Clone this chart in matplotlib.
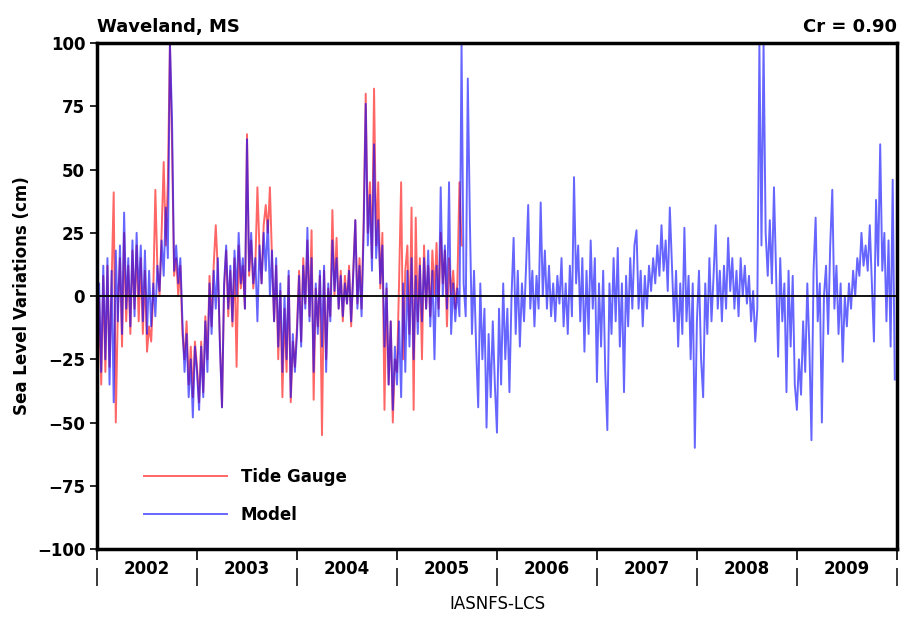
import numpy as np
import matplotlib.pyplot as plt

#Data, 48 samples per year (cm)
years = [2002, 2003, 2004, 2005, 2006, 2007, 2008, 2009]
per_year = 48

model_2002 = [-45, 5, -30, 12, -25, 15, -35, 10, -42, 18, -10, 20, -15, 33, -5, 15,
              -12, 22, -8, 25, 0, 20, -10, 18, -15, 10, -12, 5, -8, 12, 2, 22,
              8, 35, 15, 100, 70, 10, 20, 5, 15, -10, -30, -15, -40, -25, -48, -20]
model_2003 = [-30, -45, -20, -40, -10, -30, 5, -15, 10, -5, 15, -20, -44, 5, 20, -5,
              12, -10, 18, 0, 25, 5, 15, -5, 62, 10, 25, 5, 15, -10, 20, 5,
              25, 10, 30, 0, 18, -10, 15, -20, 5, -30, 0, -25, 10, -40, -15, -30]
model_2004 = [-15, 8, -20, 12, -5, 27, -10, 15, -30, 5, -15, 10, -20, 12, -30, 5,
              -10, 22, 2, 15, -5, 8, -8, 5, -3, 10, -10, 8, 30, -5, 12, -8,
              25, 76, 20, 40, 10, 60, 15, 30, 5, 20, -20, 5, -35, -10, -45, -20]
model_2005 = [-35, -10, -40, 5, -30, 10, -20, 15, -25, 8, -15, 12, -10, 15, -5, 18,
              -12, 10, -25, 12, -8, 43, 0, 20, -5, 45, -15, 5, -10, 3, -8, 100,
              5, -8, 86, 30, -15, 10, -20, -44, 5, -25, -5, -52, -15, -40, -10, -35]
model_2006 = [-54, -5, -35, 5, -25, -5, -38, 0, 23, -15, 10, -20, 5, -10, 12, 36,
              -5, 10, -12, 8, -5, 37, 0, 18, -5, 12, -8, 5, -10, 8, -3, 15,
              -12, 5, -15, 12, -8, 47, 5, 20, -10, 15, -22, 10, -15, 22, -5, 15]
model_2007 = [-34, 5, -20, 10, -30, -53, 5, -15, 15, -10, 19, -20, 5, -38, 8, -12,
              15, -5, 20, 26, -5, 10, -12, 8, -5, 12, 2, 15, 5, 20, 8, 28,
              10, 22, 2, 35, 12, -10, 10, -20, 5, -15, 27, -10, 8, -25, 5, -60]
model_2008 = [-10, 10, -25, -40, 5, -15, 15, -10, 8, 28, -5, 10, -10, 12, -5, 23,
              2, 15, -5, 10, -8, 15, 0, 12, -3, 8, -10, 2, -18, -5, 100, 20,
              100, 25, 8, 30, 5, 43, 10, -24, 15, -10, 5, -38, 10, -20, 8, -35]
model_2009 = [-45, -25, -39, -10, -30, 5, -20, -57, 10, 31, -10, 5, -50, 0, 12, -15,
              20, 42, -5, 12, -15, 5, -26, 0, -12, 5, -5, 10, 0, 15, 8, 25,
              12, 20, 10, 28, 5, -18, 38, 12, 60, 10, 25, -10, 22, -20, 46, -33]

gauge_2002 = [-52, 0, -35, 8, -30, 12, -28, 5, 41, -50, -5, 15, -20, 25, -10, 12,
              -15, 18, -5, 20, -10, 15, -15, 10, -22, -12, -18, 2, 42, 10, 0, 25,
              53, 20, 45, 100, 60, 8, 15, 0, 12, -15, -25, -10, -35, -20, -40, -18]
gauge_2003 = [-28, -42, -18, -38, -8, -25, 8, -12, 12, 28, 10, -18, -44, 3, 18, -8,
              10, -12, 15, -28, 20, 3, 12, -5, 64, 8, 22, 3, 12, 43, 18, 5,
              28, 36, 25, 43, 15, -10, 12, -25, 2, -40, -5, -30, 8, -42, -18, -28]
gauge_2004 = [-12, 10, -18, 15, -3, 22, -8, 26, -41, 3, -12, 8, -55, 10, -25, 3,
              -8, 34, 0, 23, -5, 10, -10, 8, -3, 12, -12, 10, 30, -3, 15, -5,
              30, 80, 25, 45, 15, 82, 20, 45, 3, 25, -45, 3, -35, -10, -50, -25]
# gauge stops in late August 2005
gauge_2005 = [-30, 5, 45, -25, 10, 20, -15, 35, -45, 31, -10, 15, -25, 20, -5, 12,
              -8, 18, 0, 21, -5, 25, 5, 18, -12, 15, 0, 10, -5, 5, 45, 20]

model = np.array(model_2002 + model_2003 + model_2004 + model_2005 +
                 model_2006 + model_2007 + model_2008 + model_2009, dtype=float)
gauge = np.array(gauge_2002 + gauge_2003 + gauge_2004 + gauge_2005, dtype=float)
t_model = years[0] + np.arange(len(model)) / per_year
t_gauge = years[0] + np.arange(len(gauge)) / per_year

#Plot
fig = plt.figure(figsize=(9.12, 6.23), dpi=100)
ax = fig.add_axes([0.1064, 0.1188, 0.877, 0.812])

ax.plot(t_gauge, gauge, color=(1, 0, 0), alpha=0.6, lw=1.4, label='Tide Gauge')
ax.plot(t_model, model, color=(0, 0, 1), alpha=0.6, lw=1.4, label='Model')
ax.axhline(0, color='black', lw=1.3)

ax.set_xlim(2002, 2010)
ax.set_ylim(-100, 100)

# year boundaries get ticks and '|' marks, year names sit in between
ax.set_xticks(np.arange(2002, 2011))
ax.set_xticklabels(['|'] * 9)
ax.set_xticks(np.arange(2002.5, 2010, 1), minor=True)
ax.set_xticklabels([str(y) for y in years], minor=True)
ax.tick_params(axis='x', which='major', direction='out', length=8, width=1.2,
               pad=6, labelsize=13)
ax.tick_params(axis='x', which='minor', length=0, pad=8, labelsize=12)

ax.set_yticks(np.arange(-100, 101, 25))
ax.tick_params(axis='y', direction='out', length=5, width=1.2, labelsize=12)

for lab in ax.get_xticklabels(minor=True) + ax.get_yticklabels():
    lab.set_fontweight('bold')

for s in ax.spines.values():
    s.set_linewidth(2.5)

ax.set_ylabel('Sea Level Variations (cm)', fontsize=12, fontweight='bold', labelpad=4)
ax.set_xlabel('IASNFS-LCS', fontsize=12, labelpad=6)
ax.set_title('Waveland, MS', loc='left', fontsize=13, fontweight='bold', pad=8)
ax.set_title('Cr = 0.90', loc='right', fontsize=13, fontweight='bold', pad=8)

leg = ax.legend(loc='upper left', bbox_to_anchor=(0.04, 0.19), frameon=False,
                handlelength=5.0, labelspacing=1.2, prop={'size': 12, 'weight': 'bold'})

plt.savefig('out.png', dpi=100)
